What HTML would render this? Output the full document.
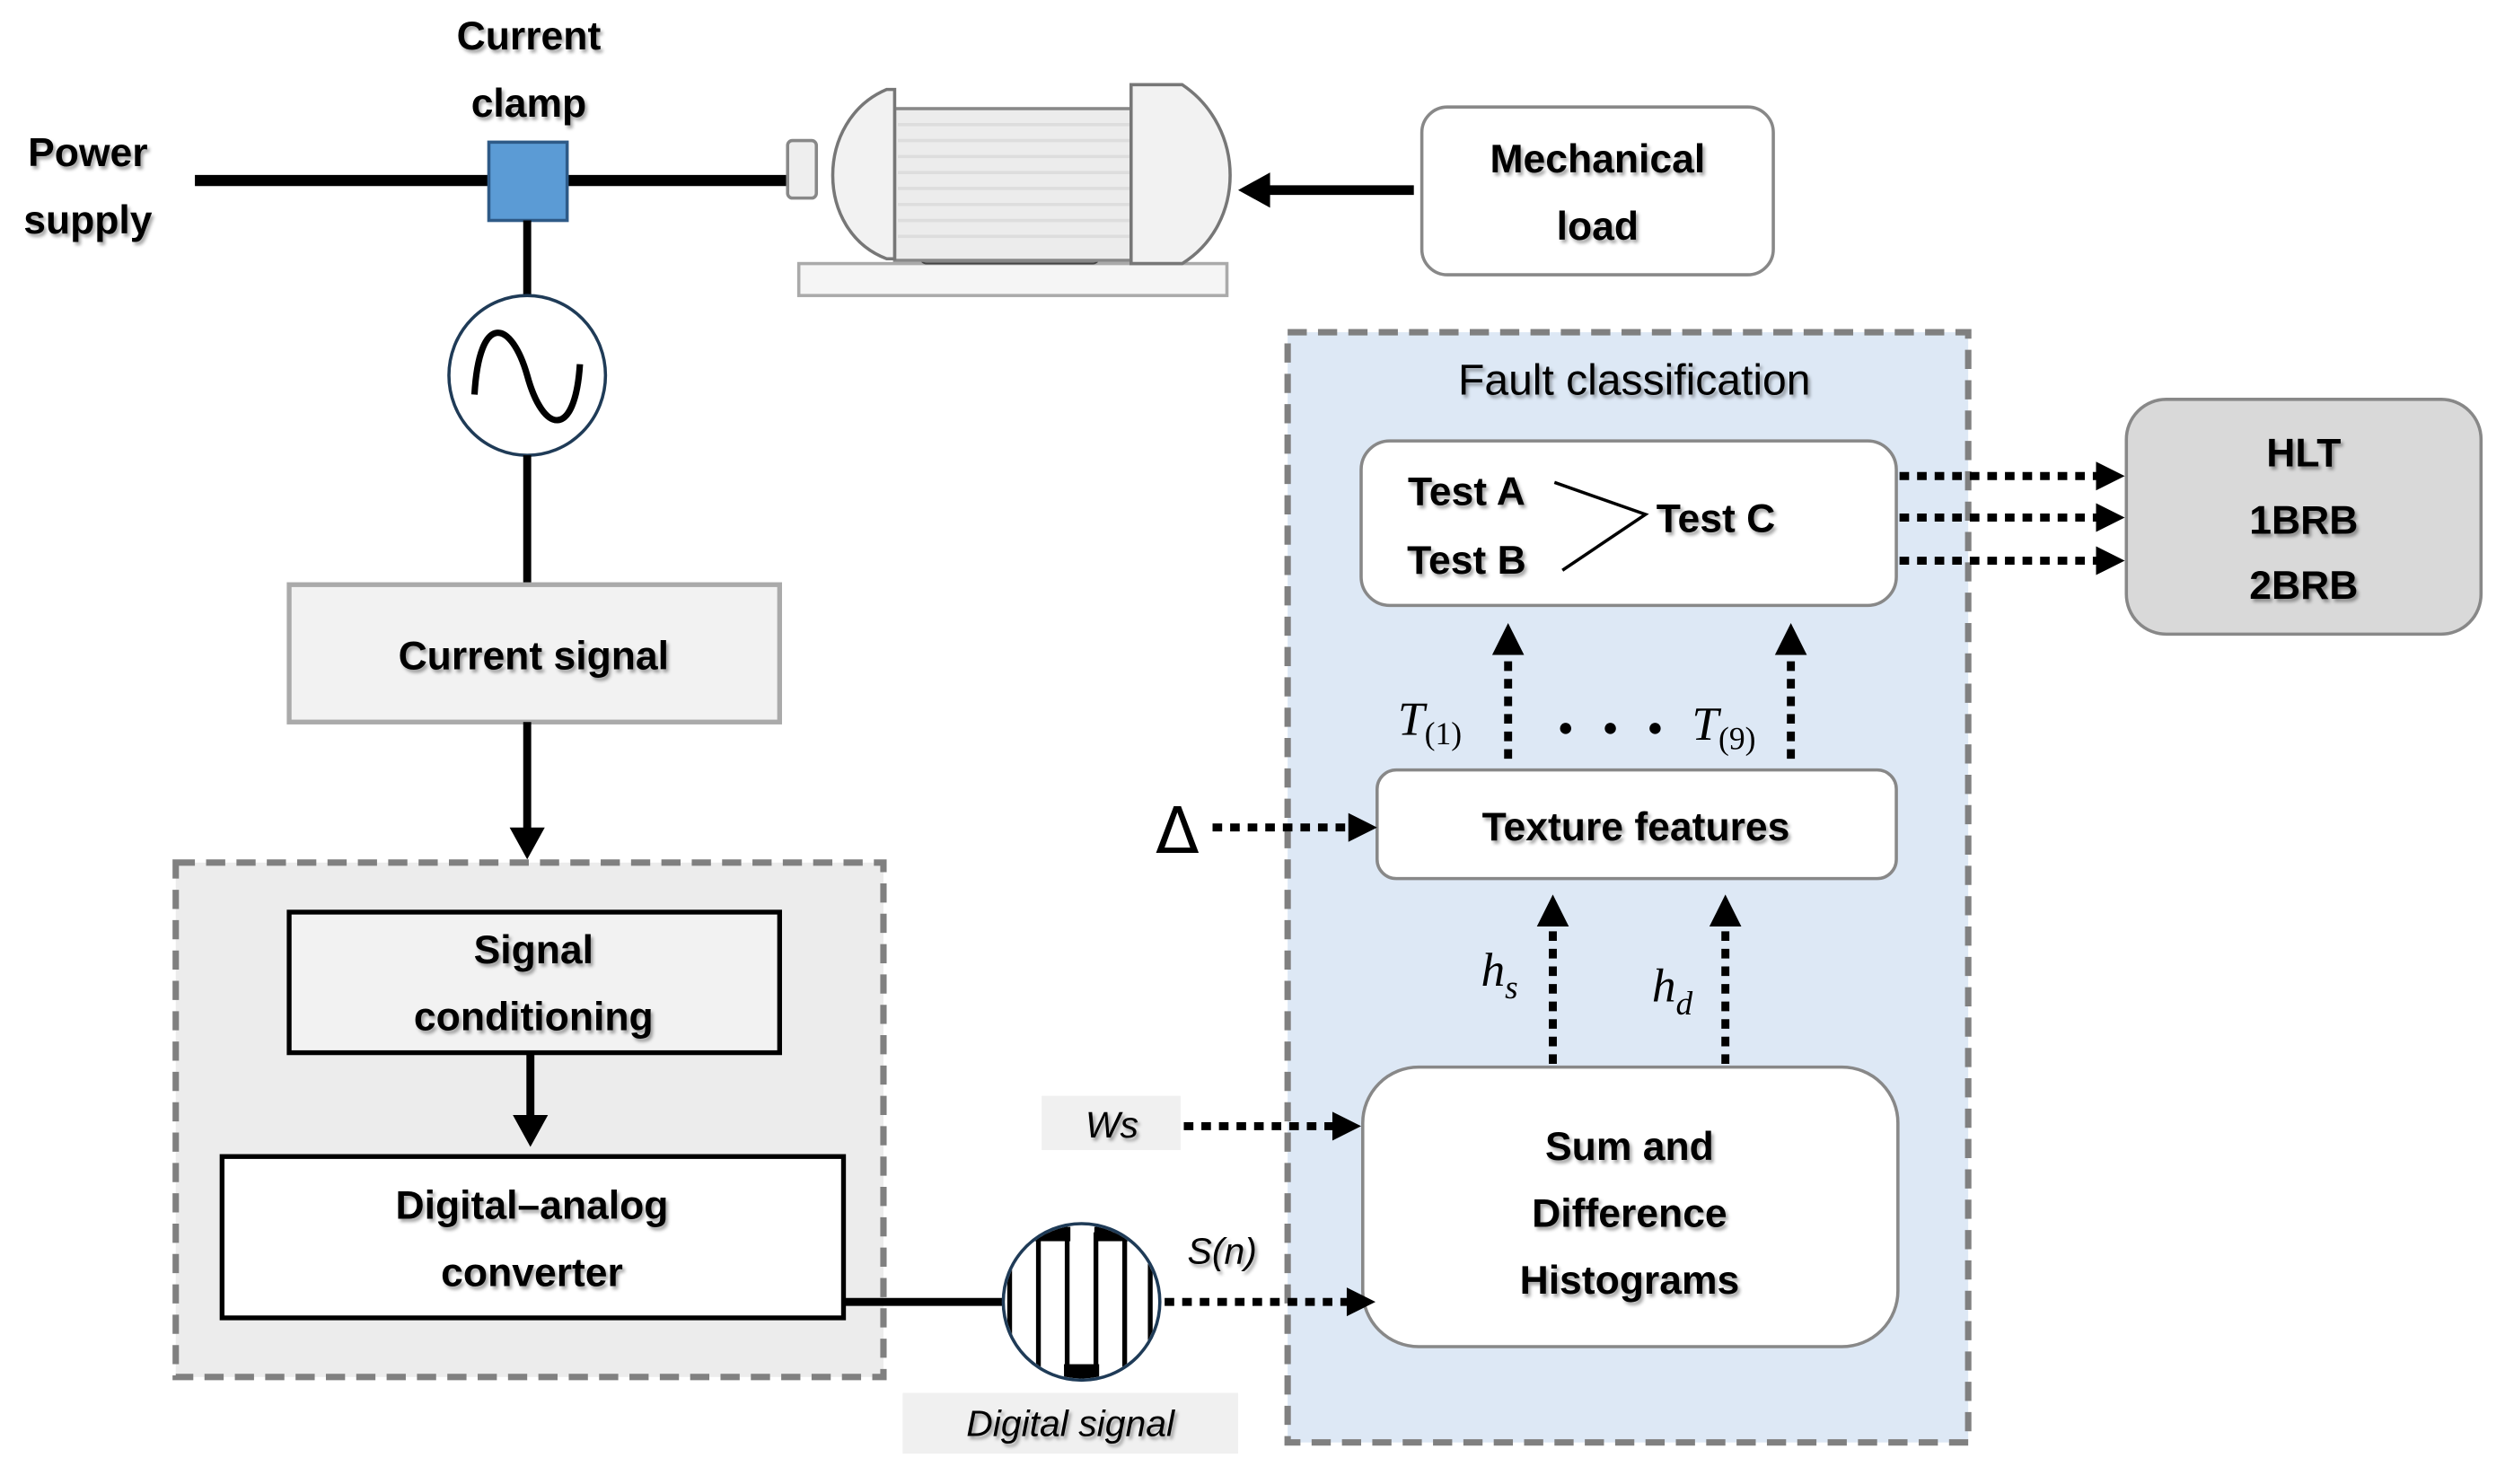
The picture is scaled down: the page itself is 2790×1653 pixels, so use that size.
<!DOCTYPE html>
<html><head><meta charset="utf-8"><style>
html,body{margin:0;padding:0;background:#fff}
svg{display:block}
.b{font-family:"Liberation Sans",sans-serif;font-weight:bold;font-size:25px;fill:#000;text-anchor:middle}
.sh{filter:url(#ts)}
.i{font-family:"Liberation Sans",sans-serif;font-style:italic;font-size:23px;text-anchor:middle}
.m{font-family:"Liberation Serif",serif;font-style:italic;font-size:30px}
.dot{stroke:#000;stroke-width:5;stroke-dasharray:6 5;fill:none}
</style></head><body>
<svg width="2790" height="1653" viewBox="0 0 1568 929" xmlns="http://www.w3.org/2000/svg">
<defs>
<filter id="ts" x="-5%" y="-5%" width="115%" height="130%"><feDropShadow dx="1.5" dy="2" stdDeviation="1" flood-color="#000" flood-opacity="0.35"/></filter>
<clipPath id="cc"><ellipse cx="677" cy="815" rx="48" ry="48"/></clipPath>
</defs>
<rect width="1568" height="929" fill="#fff"/>

<line x1="122" y1="113" x2="497" y2="113" stroke="#000" stroke-width="7"/>
<text class="b sh" x="55" y="104">Power</text>
<text class="b sh" x="55" y="146">supply</text>
<text class="b sh" x="331" y="31">Current</text>
<text class="b sh" x="331" y="73">clamp</text>
<rect x="306" y="89" width="49" height="49" fill="#5b9bd5" stroke="#2e5a87" stroke-width="2"/>
<line x1="330" y1="138" x2="330" y2="186" stroke="#000" stroke-width="5"/>
<ellipse cx="330" cy="235" rx="49" ry="50" fill="#fff" stroke="#1f3b57" stroke-width="2"/>
<path d="M297,247 C300,195 320,200 330,235 C340,272 360,275 363,228" fill="none" stroke="#000" stroke-width="4"/>
<line x1="330" y1="285" x2="330" y2="366" stroke="#000" stroke-width="5"/>

<rect x="500" y="165" width="268" height="20" fill="#f5f5f5" stroke="#aaa" stroke-width="2"/>
<rect x="576" y="148" width="112" height="17" rx="4" fill="#777" stroke="#444"/>
<rect x="560" y="68" width="150" height="95" fill="#ececec" stroke="#888" stroke-width="2"/>
<g stroke="#ddd" stroke-width="2">
<line x1="562" y1="78" x2="708" y2="78"/><line x1="562" y1="88" x2="708" y2="88"/><line x1="562" y1="98" x2="708" y2="98"/><line x1="562" y1="108" x2="708" y2="108"/><line x1="562" y1="118" x2="708" y2="118"/><line x1="562" y1="128" x2="708" y2="128"/><line x1="562" y1="138" x2="708" y2="138"/><line x1="562" y1="148" x2="708" y2="148"/>
</g>
<path d="M560,56 L555,56 C510,75 510,145 555,162 L560,162 Z" fill="#f2f2f2" stroke="#777" stroke-width="2"/>
<path d="M708,53 L740,53 C780,80 780,140 740,165 L708,165 Z" fill="#f2f2f2" stroke="#777" stroke-width="2"/>
<rect x="493" y="88" width="18" height="36" rx="3" fill="#eee" stroke="#888" stroke-width="2"/>

<line x1="885" y1="119" x2="790" y2="119" stroke="#000" stroke-width="6"/>
<path d="M775,119 L795,108 L795,130 Z" fill="#000"/>
<rect x="890" y="67" width="220" height="105" rx="16" fill="#fff" stroke="#888" stroke-width="2"/>
<text class="b sh" x="1000" y="108">Mechanical</text>
<text class="b sh" x="1000" y="150">load</text>

<rect x="181" y="366" width="307" height="86" fill="#f2f2f2" stroke="#aaa" stroke-width="3"/>
<text class="b sh" x="334" y="419">Current signal</text>
<line x1="330" y1="452" x2="330" y2="520" stroke="#000" stroke-width="5"/>
<path d="M319,518 L341,518 L330,538 Z" fill="#000"/>

<rect x="110" y="540" width="443" height="322" fill="#ececec" stroke="#808080" stroke-width="4" stroke-dasharray="12 7"/>
<rect x="181" y="571" width="307" height="88" fill="#f2f2f2" stroke="#000" stroke-width="3"/>
<text class="b sh" x="334" y="603">Signal</text>
<text class="b sh" x="334" y="645">conditioning</text>
<line x1="332" y1="659" x2="332" y2="700" stroke="#000" stroke-width="5"/>
<path d="M321,698 L343,698 L332,718 Z" fill="#000"/>
<rect x="139" y="724" width="389" height="101" fill="#fff" stroke="#000" stroke-width="3"/>
<text class="b sh" x="333" y="763">Digital–analog</text>
<text class="b sh" x="333" y="805">converter</text>
<line x1="528" y1="815" x2="630" y2="815" stroke="#000" stroke-width="5"/>

<ellipse cx="677" cy="815" rx="49" ry="49" fill="#fff"/>
<g clip-path="url(#cc)" stroke="#000" stroke-width="3" fill="none">
<path d="M632,760 L632,870 M650,870 L650,773 L668,773 L668,858 L686,858 L686,773 L704,773 L704,870 M720,760 L720,870"/>
<rect x="648" y="768" width="22" height="9" fill="#000" stroke="none"/>
<rect x="685" y="768" width="22" height="9" fill="#000" stroke="none"/>
<rect x="666" y="854" width="22" height="9" fill="#000" stroke="none"/>
</g>
<ellipse cx="677" cy="815" rx="49" ry="49" fill="none" stroke="#1f3b57" stroke-width="2"/>
<rect x="565" y="872" width="210" height="38" fill="#f0f0f0"/>
<text class="i sh" x="670" y="899">Digital signal</text>
<text class="i sh" x="765" y="791">S(n)</text>
<rect x="652" y="686" width="87" height="34" fill="#f0f0f0"/>
<text class="i sh" x="696" y="712">Ws</text>

<rect x="806" y="208" width="426" height="695" fill="#dde8f5" stroke="#808080" stroke-width="4" stroke-dasharray="12 7"/>
<text x="1023" y="247" style="font-family:'Liberation Sans',sans-serif;font-size:27px;text-anchor:middle" class="sh">Fault classification</text>
<rect x="852" y="276" width="335" height="103" rx="18" fill="#fff" stroke="#888" stroke-width="2"/>
<text class="b sh" x="918" y="316">Test A</text>
<text class="b sh" x="918" y="359">Test B</text>
<text class="b sh" x="1074" y="333">Test C</text>
<path d="M973,302 L1030,322 L978,357" fill="none" stroke="#000" stroke-width="2"/>

<line class="dot" x1="944" y1="475" x2="944" y2="408"/>
<path d="M934,410 L944,390 L954,410 Z" fill="#000"/>
<line class="dot" x1="1121" y1="475" x2="1121" y2="408"/>
<path d="M1111,410 L1121,390 L1131,410 Z" fill="#000"/>
<text class="m" x="875" y="460">T<tspan font-size="20" font-style="normal" dy="6">(1)</tspan></text>
<text class="m" x="1059" y="463">T<tspan font-size="20" font-style="normal" dy="6">(9)</tspan></text>
<circle cx="980" cy="456" r="3.5"/><circle cx="1008" cy="456" r="3.5"/><circle cx="1036" cy="456" r="3.5"/>

<rect x="862" y="482" width="325" height="68" rx="12" fill="#fff" stroke="#888" stroke-width="2"/>
<text class="b sh" x="1024" y="526">Texture features</text>
<text x="737" y="534" style="font-family:'DejaVu Sans',sans-serif;font-size:40px;text-anchor:middle">Δ</text>
<line class="dot" x1="759" y1="518" x2="846" y2="518"/>
<path d="M844,509 L862,518 L844,527 Z" fill="#000"/>

<line class="dot" x1="972" y1="666" x2="972" y2="578"/>
<path d="M962,580 L972,560 L982,580 Z" fill="#000"/>
<line class="dot" x1="1080" y1="666" x2="1080" y2="578"/>
<path d="M1070,580 L1080,560 L1090,580 Z" fill="#000"/>
<text class="m" x="927" y="617">h<tspan font-size="21" dy="8">s</tspan></text>
<text class="m" x="1034" y="627">h<tspan font-size="21" dy="8">d</tspan></text>

<rect x="853" y="668" width="335" height="175" rx="35" fill="#fff" stroke="#888" stroke-width="2"/>
<text class="b sh" x="1020" y="726">Sum and</text>
<text class="b sh" x="1020" y="768">Difference</text>
<text class="b sh" x="1020" y="810">Histograms</text>

<line class="dot" x1="729" y1="815" x2="845" y2="815"/>
<path d="M843,806 L861,815 L843,824 Z" fill="#000"/>
<line class="dot" x1="741" y1="705" x2="836" y2="705"/>
<path d="M834,696 L852,705 L834,714 Z" fill="#000"/>

<line class="dot" x1="1189" y1="298" x2="1314" y2="298"/><path d="M1312,289 L1330,298 L1312,307 Z" fill="#000"/>
<line class="dot" x1="1189" y1="324" x2="1314" y2="324"/><path d="M1312,315 L1330,324 L1312,333 Z" fill="#000"/>
<line class="dot" x1="1189" y1="351" x2="1314" y2="351"/><path d="M1312,342 L1330,351 L1312,360 Z" fill="#000"/>
<rect x="1331" y="250" width="222" height="147" rx="25" fill="#d9d9d9" stroke="#888" stroke-width="2"/>
<text class="b sh" x="1442" y="292">HLT</text>
<text class="b sh" x="1442" y="334">1BRB</text>
<text class="b sh" x="1442" y="375">2BRB</text>
</svg>
</body></html>
